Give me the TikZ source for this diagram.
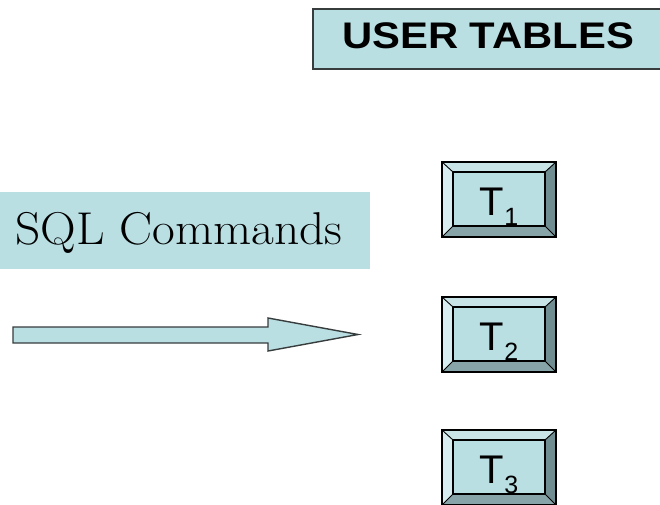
\documentclass[tikz,border=0pt]{standalone}
\usepackage{fontspec}
\setsansfont{Liberation Sans}
\usetikzlibrary{calc}

\definecolor{paleteal}{RGB}{185,223,227}
\definecolor{bevtop}{RGB}{200,228,230}
\definecolor{bevleft}{RGB}{215,237,239}
\definecolor{bevright}{RGB}{112,142,145}
\definecolor{bevbottom}{RGB}{135,165,168}
\definecolor{framegray}{RGB}{55,60,60}

\tikzset{
  tablekey/.style={minimum width=114, minimum height=75, inner sep=0, outer sep=0},
  keyedge/.style={draw=black, line width=0.9},
  keylabel/.style={font=\sffamily\fontsize{40}{40}\selectfont, anchor=base, inner sep=0},
  titlebox/.style={draw=framegray, line width=1.8, fill=paleteal, anchor=north west,
                   minimum width=360, minimum height=60, inner sep=0},
  titletext/.style={font=\sffamily\bfseries\fontsize{37}{37}\selectfont, anchor=base, inner sep=0},
  cmdbox/.style={fill=paleteal, anchor=north west, minimum width=370, minimum height=77, inner sep=0},
  cmdtext/.style={font=\fontsize{46}{46}\selectfont, anchor=base west, inner sep=0},
  bigarrow/.style={fill=paleteal, draw=framegray, line width=1.4, line join=miter},
}

\newcommand{\subidx}[1]{\raisebox{-10pt}{\fontsize{25}{25}\selectfont #1}}

\begin{document}
\begin{tikzpicture}[x=1pt, y=-1pt]
  \useasboundingbox (0,0) rectangle (660,505);
  \clip (0,0) rectangle (660,505);

  % heading
  \node[titlebox] (title) at (312,8) {};
  \node[titletext] (titlelbl) at (488,49) {\scalebox{1.13}[1]{USER TABLES}};

  % command caption
  \node[cmdbox] (cmd) at (0,192) {};
  \node[cmdtext] (cmdlbl) at (15,244.5) {\scalebox{1.075}[1]{SQL Commands}};

  % wide arrow
  \coordinate (a1) at (13,327);
  \coordinate (a2) at (268,327);
  \coordinate (a3) at (268,318);
  \coordinate (tip) at (358,334.5);
  \coordinate (a4) at (268,351);
  \coordinate (a5) at (268,343);
  \coordinate (a6) at (13,343);
  \draw[bigarrow] (a1) -- (a2) -- (a3) -- (tip) -- (a4) -- (a5) -- (a6) -- cycle;

  % bevelled table keys
  \node[tablekey] (t1) at (499,199.5) {};
  \node[tablekey] (t2) at (499,334.5) {};
  \node[tablekey] (t3) at (499,467.5) {};

  \foreach \n in {t1,t2,t3} {
    \coordinate (\n-inw) at ($(\n.north west)+(11,10)$);
    \coordinate (\n-ine) at ($(\n.north east)+(-11,10)$);
    \coordinate (\n-ise) at ($(\n.south east)+(-11,-11)$);
    \coordinate (\n-isw) at ($(\n.south west)+(11,-11)$);
    \fill[bevtop] (\n.north west) -- (\n.north east) -- (\n-ine) -- (\n-inw) -- cycle;
    \fill[bevleft] (\n.north west) -- (\n-inw) -- (\n-isw) -- (\n.south west) -- cycle;
    \fill[bevright] (\n.north east) -- (\n.south east) -- (\n-ise) -- (\n-ine) -- cycle;
    \fill[bevbottom] (\n.south west) -- (\n.south east) -- (\n-ise) -- (\n-isw) -- cycle;
    \draw[keyedge, line width=1.6, fill=paleteal] (\n-inw) rectangle (\n-ise);
    \draw[keyedge] (\n.north west) -- (\n-inw) (\n.north east) -- (\n-ine)
                   (\n.south east) -- (\n-ise) (\n.south west) -- (\n-isw);
    \draw[keyedge, line width=1.3] (\n.north west) rectangle (\n.south east);
  }

  \node[keylabel] (t1lbl) at ($(t1.center)+(0,15.5)$) {T\subidx{1}};
  \node[keylabel] (t2lbl) at ($(t2.center)+(0,15.5)$) {T\subidx{2}};
  \node[keylabel] (t3lbl) at ($(t3.center)+(0,15.5)$) {T\subidx{3}};
\end{tikzpicture}
\end{document}
